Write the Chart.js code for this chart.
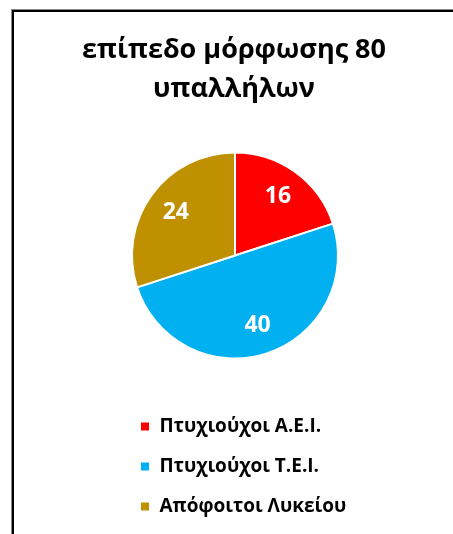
<!DOCTYPE html>
<html>
<head>
<meta charset="utf-8">
<script src="https://cdn.jsdelivr.net/npm/chart.js@4/dist/chart.umd.min.js"></script>
<style>
  html, body { margin: 0; padding: 0; background: #fff; }
  #wrap { position: relative; width: 453px; height: 534px; overflow: hidden; }
  #frame { position: absolute; left: 12px; top: 10px; width: 600px; height: 700px;
           border-left: 2px solid #000; border-top: 2px solid #000;
           box-shadow: -1px -1px 0 #888; }
  canvas { position: absolute; left: 0; top: 0; }
</style>
</head>
<body>
<div id="wrap">
  <div id="frame"></div>
  <canvas id="c" width="453" height="534"></canvas>
</div>
<script>
const titleLines = ['επίπεδο μόρφωσης 80', 'υπαλλήλων'];
const categories = ['Πτυχιούχοι Α.Ε.Ι.', 'Πτυχιούχοι Τ.Ε.Ι.', 'Απόφοιτοι Λυκείου'];
const employees = [16, 40, 24];
const sliceColors = ['#FF0000', '#00B0F0', '#BF9000'];

const FONT = '"Open Sans", "Noto Sans", sans-serif';

// empty side boxes that narrow the plot area (and the legend) but not the full-width title
function sideSpacer(position, size) {
  return {
    position: position, weight: 100, fullSize: false, options: {},
    left: 0, top: 0, right: 0, bottom: 0, width: 0, height: 0,
    isHorizontal() { return false; },
    update(maxWidth, maxHeight) { this.width = size; this.height = maxHeight; },
    draw() {}
  };
}
const spacers = {
  id: 'spacers',
  beforeInit(chart) {
    Chart.layouts.addBox(chart, sideSpacer('left', 104));
    Chart.layouts.addBox(chart, sideSpacer('right', 102));
  }
};

const sliceLabels = {
  id: 'sliceLabels',
  afterDatasetsDraw(chart) {
    const ctx = chart.ctx;
    const meta = chart.getDatasetMeta(0);
    const values = chart.data.datasets[0].data;
    ctx.save();
    ctx.fillStyle = '#fff';
    ctx.font = 'bold 23px ' + FONT;
    ctx.textAlign = 'center';
    ctx.textBaseline = 'middle';
    meta.data.forEach((arc, i) => {
      const p = arc.getProps(['x', 'y', 'startAngle', 'endAngle', 'outerRadius'], true);
      const mid = (p.startAngle + p.endAngle) / 2;
      const r = p.outerRadius * 0.71;
      ctx.fillText(String(values[i]), p.x + Math.cos(mid) * r, p.y + Math.sin(mid) * r);
    });
    ctx.restore();
  }
};

new Chart(document.getElementById('c'), {
  type: 'pie',
  data: {
    labels: categories,
    datasets: [{
      data: employees,
      backgroundColor: sliceColors,
      borderColor: '#ffffff',
      borderWidth: 2,
      radius: 103
    }]
  },
  options: {
    responsive: false,
    animation: false,
    layout: { padding: { left: 15, right: 0, top: 0, bottom: 8 } },
    plugins: {
      tooltip: { enabled: false },
      title: {
        display: true,
        fullSize: true,
        text: titleLines,
        color: '#000',
        font: { family: FONT, size: 27, weight: 'bold', lineHeight: '39px' },
        padding: { top: 30.5, bottom: 6.5 }
      },
      legend: {
        display: true,
        position: 'bottom',
        align: 'start',
        fullSize: false,
        labels: {
          boxWidth: 10,
          boxHeight: 10,
          padding: 21,
          color: '#000',
          font: { family: FONT, size: 19, weight: 'bold' }
        }
      }
    }
  },
  plugins: [spacers, sliceLabels]
});
</script>
</body>
</html>
